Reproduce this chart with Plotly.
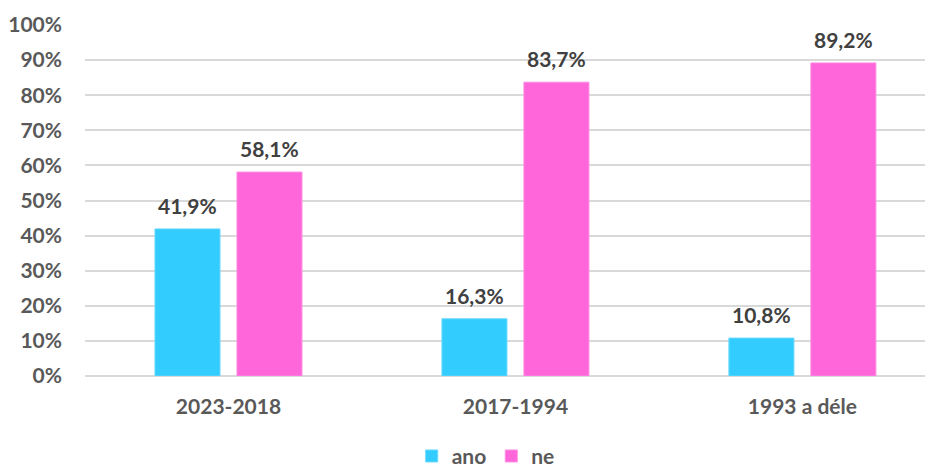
import plotly.graph_objects as go

categories = ["2023-2018", "2017-1994", "1993 a déle"]
ano = [0.419, 0.163, 0.108]
ne = [0.581, 0.837, 0.892]
series_names = ["ano", "ne"]
y_ticks = [0, 0.1, 0.2, 0.3, 0.4, 0.5, 0.6, 0.7, 0.8, 0.9, 1.0]

FONT = "Lato"
SIZE = 21
fig = go.Figure()
fig.add_trace(go.Bar(
    x=categories, y=ano, name=series_names[0],
    marker=dict(color="#33CCFF", line=dict(color="#66D9FF", width=1)),
))
fig.add_trace(go.Bar(
    x=categories, y=ne, name=series_names[1],
    marker=dict(color="#FF66D9", line=dict(color="#FF8CE3", width=1)),
))

# data labels, one per bar, offset to its bar within the group
for vals, shift in ((ano, -41), (ne, 41)):
    for c, v in zip(categories, vals):
        fig.add_annotation(
            x=c, y=v, xref="x", yref="y", xshift=shift, yshift=9,
            yanchor="bottom", showarrow=False,
            text=f"{v*100:.1f}%".replace(".", ","),
            font=dict(family=FONT, size=SIZE, color="#404040", weight="bold"),
        )

fig.update_layout(
    width=933, height=467,
    margin=dict(l=77, r=0, t=17, b=99, autoexpand=False),
    paper_bgcolor="white", plot_bgcolor="white",
    separators=", ",
    barmode="group", bargap=0.4286, bargroupgap=0.207,
    font=dict(family=FONT, color="#595959", weight="bold"),
    showlegend=True,
    legend=dict(orientation="h", xref="container", yref="container",
                x=0.512, xanchor="center", y=0.04, yanchor="middle",
                font=dict(family=FONT, size=SIZE, color="#595959", weight="bold"),
                itemwidth=30, traceorder="normal"),
    xaxis=dict(range=[-0.5, 2.483], showgrid=False, zeroline=False, showline=False,
               automargin=False,
               ticks="", tickfont=dict(family=FONT, size=SIZE, color="#595959", weight="bold"),
               ticklabelstandoff=16),
    yaxis=dict(range=[0, 1.0], tickvals=y_ticks, tickformat=".0%",
               automargin=False,
               showgrid=True, gridcolor="#D9D9D9", gridwidth=1.5,
               zeroline=True, zerolinecolor="#D9D9D9", zerolinewidth=1.5,
               showline=False, ticks="", ticklabelstandoff=22,
               tickfont=dict(family=FONT, size=SIZE, color="#595959", weight="bold")),
)

fig.write_html("out.html")
